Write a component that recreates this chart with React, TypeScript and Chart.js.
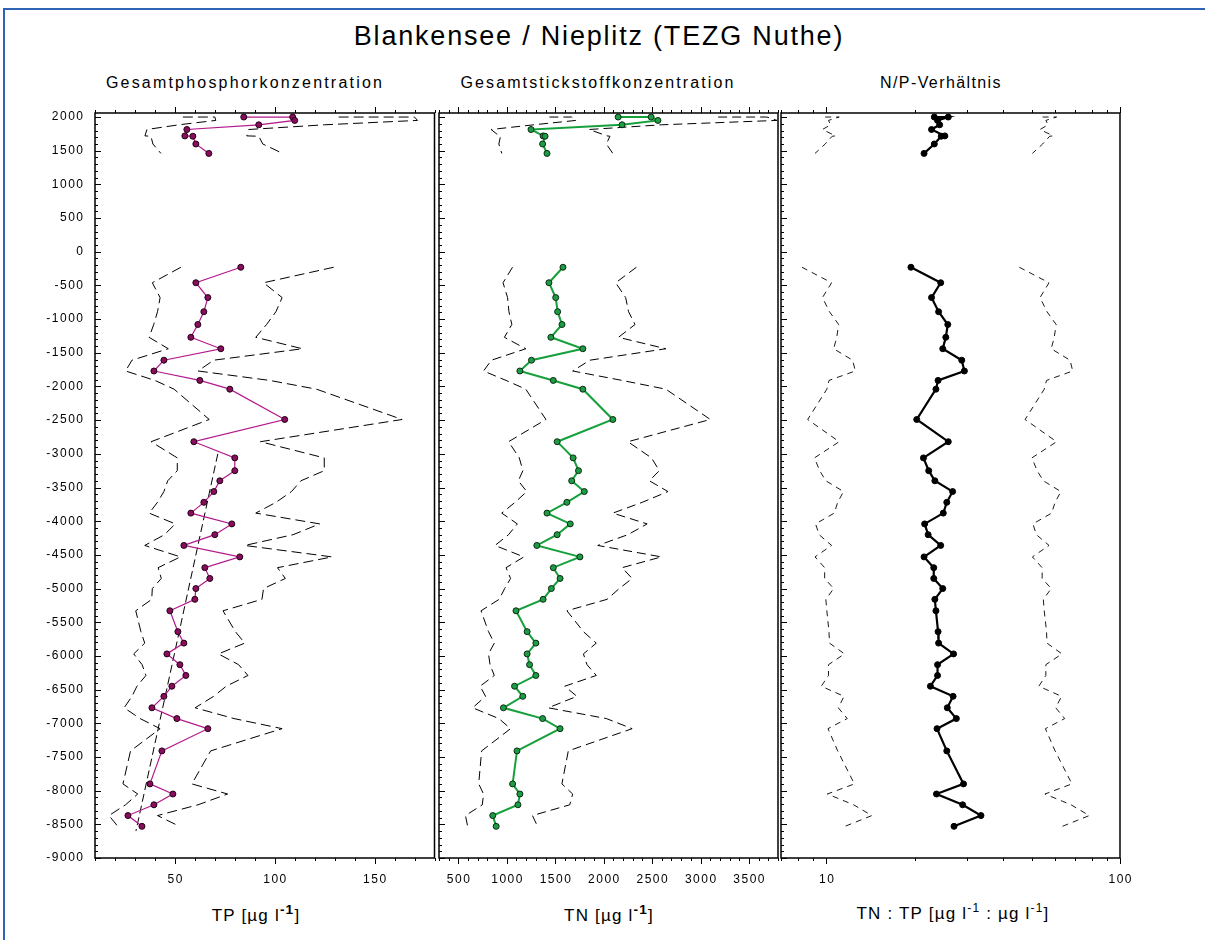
import React, { useEffect, useRef } from "react";
import { Chart, registerables } from "chart.js";

Chart.register(...registerables);

// ---------- sample ages (years; negative = BC) ----------
const recentYears = [2000, 2000, 1950, 1885, 1815, 1720, 1715, 1600, 1460];
const coreYears = [
  -230, -460, -680, -890, -1080, -1270, -1440, -1610, -1770, -1910, -2040, -2490,
  -2820, -3060, -3250, -3400, -3560, -3720, -3880, -4040, -4200, -4360, -4530,
  -4690, -4850, -5000, -5160, -5330, -5640, -5810, -5970, -6130, -6290, -6450,
  -6600, -6770, -6930, -7080, -7410, -7900, -8050, -8210, -8370, -8530,
];

// ---------- TP ----------
const tpRecent = [84.5, 109, 110, 92, 56, 55, 59, 60.5, 67];
const tpRecentLow = [54, 70, 70.5, 52, 36, 35, 38, 39, 43];
const tpRecentHigh = [132, 170, 171.5, 125, 87, 86, 92, 94, 104];
const tpCore = [
  83, 60.5, 66.5, 64.5, 61.5, 58, 73, 44.5, 39.5, 62.5, 77.5, 105, 59.5, 80, 80,
  72.5, 69.5, 64.5, 58, 78.5, 70, 54.5, 82.5, 65, 67.5, 60.5, 60, 47.5, 51.5, 54.5,
  46, 52.5, 55.5, 48.5, 44.5, 38.5, 51, 66.5, 43.5, 37.5, 49, 39.5, 26.5, 33.5,
];
const tpCoreLow = [
  53, 38.7, 42.6, 41.3, 39.4, 37.1, 46.7, 28.5, 25.3, 40, 49.6, 67.2, 38.1, 51.2,
  51.2, 46.4, 44.5, 41.3, 37.1, 50.2, 44.8, 34.9, 52.8, 41.6, 43.2, 38.7, 38.4,
  30.4, 33, 34.9, 29.4, 33.6, 35.5, 31, 28.5, 24.6, 32.6, 42.6, 27.8, 24, 31.4,
  25.3, 17, 21.4,
];
const tpCoreHigh = [
  129.5, 94.4, 103.7, 100.6, 95.9, 90.5, 113.9, 69.4, 61.6, 97.5, 120.9, 163.8,
  92.8, 124.8, 124.8, 113.1, 108.4, 100.6, 90.5, 122.5, 109.2, 85, 128.7, 101.4,
  105.3, 94.4, 93.6, 74.1, 80.3, 85, 71.8, 81.9, 86.6, 75.7, 69.4, 60.1, 79.6,
  103.7, 67.9, 58.5, 76.4, 61.6, 41.3, 52.3,
];
const tpTrendYears = [-3000, -8600];
const tpTrendValues = [71.5, 30.5];

// ---------- TN ----------
const tnRecent = [2150, 2490, 2560, 2190, 1250, 1375, 1395, 1370, 1415];
const tnRecentLow = [1440, 1668, 1715, 1280, 838, 921, 935, 918, 948];
const tnRecentHigh = [3182, 3685, 3789, 2600, 1850, 2035, 2065, 2028, 2094];
const tnCore = [
  1580, 1435, 1505, 1525, 1570, 1455, 1785, 1255, 1135, 1480, 1785, 2095, 1520,
  1685, 1740, 1670, 1800, 1620, 1415, 1655, 1520, 1310, 1755, 1480, 1550, 1460,
  1375, 1095, 1210, 1300, 1210, 1235, 1300, 1080, 1165, 965, 1370, 1550, 1105,
  1060, 1135, 1115, 855, 890,
];
const tnCoreLow = [
  1059, 961, 1008, 1022, 1052, 975, 1196, 841, 760, 992, 1196, 1404, 1018, 1129,
  1166, 1119, 1206, 1085, 948, 1109, 1018, 878, 1176, 992, 1039, 978, 921, 734,
  811, 871, 811, 827, 871, 724, 781, 647, 918, 1039, 740, 710, 760, 747, 573, 596,
];
const tnCoreHigh = [
  2338, 2124, 2227, 2257, 2324, 2153, 2642, 1857, 1680, 2190, 2642, 3101, 2250,
  2494, 2575, 2472, 2664, 2398, 2094, 2449, 2250, 1939, 2597, 2190, 2294, 2161,
  2035, 1621, 1791, 1924, 1791, 1828, 1924, 1598, 1724, 1428, 2028, 2294, 1635,
  1569, 1680, 1650, 1265, 1317,
];

// ---------- N/P ----------
const npRecent = [23.3, 26.0, 23.9, 24.3, 22.8, 25.3, 24.6, 23.3, 21.5];
const npRecentLow = [9.9, 11.05, 10.16, 10.33, 9.69, 10.75, 10.46, 9.9, 9.14];
const npRecentHigh = [54.5, 60.8, 55.9, 56.9, 53.4, 59.2, 57.6, 54.5, 50.3];
const npCore = [
  19.4, 24.5, 22.8, 24.1, 25.9, 25.5, 24.9, 28.9, 29.5, 24.0, 23.6, 20.3, 26.0,
  21.4, 22.3, 23.4, 26.9, 25.7, 25.0, 21.6, 22.2, 24.5, 21.5, 23.2, 23.2, 24.9,
  23.4, 23.6, 24.0, 24.1, 27.1, 23.9, 23.9, 22.6, 27.0, 25.8, 27.7, 23.8, 25.7,
  29.3, 23.7, 29.1, 33.6, 27.2,
];
const npCoreLow = [
  8.25, 10.41, 9.69, 10.24, 11.0, 10.84, 10.58, 12.28, 12.54, 10.2, 10.03, 8.63,
  11.05, 9.1, 9.48, 9.95, 11.43, 10.92, 10.63, 9.18, 9.44, 10.41, 9.14, 9.86, 9.86,
  10.58, 9.95, 10.03, 10.2, 10.24, 11.52, 10.16, 10.16, 9.6, 11.48, 10.97, 11.77,
  10.12, 10.92, 12.45, 10.07, 12.37, 14.28, 11.56,
];
const npCoreHigh = [
  45.4, 57.3, 53.4, 56.4, 60.6, 59.7, 58.3, 67.6, 69, 56.2, 55.2, 47.5, 60.8, 50.1,
  52.2, 54.8, 62.9, 60.1, 58.5, 50.5, 51.9, 57.3, 50.3, 54.3, 54.3, 58.3, 54.8,
  55.2, 56.2, 56.4, 63.4, 55.9, 55.9, 52.9, 63.2, 60.4, 64.8, 55.7, 60.1, 68.6,
  55.5, 68.1, 78.6, 63.6,
];

// ---------- tick labels ----------
const yTickLabels = [
  2000, 1500, 1000, 500, 0, -500, -1000, -1500, -2000, -2500, -3000, -3500, -4000,
  -4500, -5000, -5500, -6000, -6500, -7000, -7500, -8000, -8500, -9000,
];
const tpTickLabels = [50, 100, 150];
const tnTickLabels = [500, 1000, 1500, 2000, 2500, 3000, 3500];
const npTickLabels = [10, 100];

const FONT = "'Liberation Sans', Arial, Helvetica, sans-serif";
const CANVAS_TOP = 100;
const CANVAS_H = 800;
const PAD_TOP = 13; // plot top at y = 113
const PAD_BOTTOM = 42; // plot bottom at y = 858

function pts(xs: number[], ys: number[]) {
  return xs.map((x, i) => ({ x, y: ys[i] }));
}

function series(label: string, xs: number[], ys: number[], line: string, fill: string, edge: string, width: number, radius: number) {
  return {
    label,
    data: pts(xs, ys),
    showLine: true,
    borderColor: line,
    borderWidth: width,
    pointRadius: radius,
    pointBackgroundColor: fill,
    pointBorderColor: edge,
    pointBorderWidth: 1,
    clip: false,
  };
}

function dashed(label: string, xs: number[], ys: number[], dash: number[], width: number) {
  return {
    label,
    data: pts(xs, ys),
    showLine: true,
    borderColor: "#000",
    borderWidth: width,
    borderDash: dash,
    pointRadius: 0,
    clip: false,
  };
}

function range(a: number, b: number, s: number) {
  const out: number[] = [];
  for (let v = a; v <= b + 1e-9; v += s) out.push(Math.round(v * 1000) / 1000);
  return out;
}

type Panel = {
  key: string;
  left: number;
  width: number;
  padLeft: number;
  padRight: number;
  showY: boolean;
  xType: "linear" | "logarithmic";
  xMin: number;
  xMax: number;
  xLabels: number[];
  minorX: number[];
  datasets: any[];
};

const TP_LINE = "#b3188c";
const TP_FILL = "#8a0c5f";
const TN_LINE = "#16a03c";
const TN_FILL = "#1c9c45";

const panels: Panel[] = [
  {
    key: "tp",
    left: 0,
    width: 437,
    padLeft: 95,
    padRight: 2.5,
    showY: true,
    xType: "linear",
    xMin: 10,
    xMax: 180,
    xLabels: tpTickLabels,
    minorX: range(10, 180, 10),
    datasets: [
      series("TP recent", tpRecent, recentYears, TP_LINE, TP_FILL, "#200010", 1.2, 3),
      series("TP core", tpCore, coreYears, TP_LINE, TP_FILL, "#200010", 1.2, 3),
      dashed("TP trend", tpTrendValues, tpTrendYears, [8, 4], 1),
      dashed("TP low recent", tpRecentLow, recentYears, [10, 5], 1),
      dashed("TP high recent", tpRecentHigh, recentYears, [10, 5], 1),
      dashed("TP low core", tpCoreLow, coreYears, [10, 5], 1),
      dashed("TP high core", tpCoreHigh, coreYears, [10, 5], 1),
    ],
  },
  {
    key: "tn",
    left: 437,
    width: 343,
    padLeft: 2,
    padRight: 2,
    showY: false,
    xType: "linear",
    xMin: 300,
    xMax: 3800,
    xLabels: tnTickLabels,
    minorX: range(300, 3800, 100),
    datasets: [
      series("TN recent", tnRecent, recentYears, TN_LINE, TN_FILL, "#0b2a12", 2, 3),
      series("TN core", tnCore, coreYears, TN_LINE, TN_FILL, "#0b2a12", 2, 3),
      dashed("TN low recent", tnRecentLow, recentYears, [9, 5], 1),
      dashed("TN high recent", tnRecentHigh, recentYears, [9, 5], 1),
      dashed("TN low core", tnCoreLow, coreYears, [9, 5], 1),
      dashed("TN high core", tnCoreHigh, coreYears, [9, 5], 1),
    ],
  },
  {
    key: "np",
    left: 780,
    width: 425,
    padLeft: 1,
    padRight: 85,
    showY: false,
    xType: "logarithmic",
    xMin: 7,
    xMax: 100,
    xLabels: npTickLabels,
    minorX: [7, 8, 9, 10, 20, 30, 40, 50, 60, 70, 80, 90, 100],
    datasets: [
      series("N/P recent", npRecent, recentYears, "#000", "#000", "#000", 2.2, 3),
      series("N/P core", npCore, coreYears, "#000", "#000", "#000", 2.2, 3),
      dashed("N/P low recent", npRecentLow, recentYears, [6, 5], 0.9),
      dashed("N/P high recent", npRecentHigh, recentYears, [6, 5], 0.9),
      dashed("N/P low core", npCoreLow, coreYears, [6, 5], 0.9),
      dashed("N/P high core", npCoreHigh, coreYears, [6, 5], 0.9),
    ],
  },
];

function hasValue(list: number[], v: number) {
  return list.some((m) => Math.abs(m - v) < 1e-6 * Math.max(1, Math.abs(m)));
}

// Draws the panel frame, the minor/major tick marks and the tick labels
// at positions taken from the chart's own scales.
function axisPlugin(p: Panel) {
  return {
    id: "axisFrame_" + p.key,
    afterDraw(chart: any) {
      const ctx = chart.ctx;
      const a = chart.chartArea;
      const ys = chart.scales.y;
      const xs = chart.scales.x;
      ctx.save();
      ctx.strokeStyle = "#000";
      ctx.lineWidth = 1;
      ctx.beginPath();
      for (let v = -9000; v <= 2000; v += 100) {
        const py = Math.round(ys.getPixelForValue(v)) + 0.5;
        const len = v % 500 === 0 ? 6 : 3;
        ctx.moveTo(a.left, py);
        ctx.lineTo(a.left + len, py);
      }
      for (const v of p.minorX) {
        const px = Math.round(xs.getPixelForValue(v)) + 0.5;
        const len = hasValue(p.xLabels, v) ? 6 : 3;
        ctx.moveTo(px, a.bottom);
        ctx.lineTo(px, a.bottom + len);
        ctx.moveTo(px, a.top);
        ctx.lineTo(px, a.top - len);
      }
      ctx.stroke();
      ctx.lineWidth = 1.5;
      ctx.strokeRect(a.left, a.top, a.right - a.left, a.bottom - a.top);

      ctx.fillStyle = "#000";
      ctx.font = `12px ${FONT}`;
      ctx.letterSpacing = "1.5px";
      ctx.textBaseline = "middle";
      if (p.showY) {
        ctx.textAlign = "right";
        for (const v of yTickLabels) {
          ctx.fillText(String(v), a.left - 10.5, ys.getPixelForValue(v));
        }
      }
      ctx.textAlign = "center";
      for (const v of p.xLabels) {
        ctx.fillText(String(v), xs.getPixelForValue(v) + 0.75, a.bottom + 22);
      }
      ctx.letterSpacing = "0px";
      ctx.restore();
    },
  };
}

function ChartPanel({ p }: { p: Panel }) {
  const ref = useRef<HTMLCanvasElement>(null);
  useEffect(() => {
    const chart = new Chart(ref.current as HTMLCanvasElement, {
      type: "scatter",
      data: { datasets: p.datasets },
      options: {
        animation: false,
        responsive: false,
        maintainAspectRatio: false,
        devicePixelRatio: 1,
        events: [],
        layout: {
          autoPadding: false,
          padding: { top: PAD_TOP, bottom: PAD_BOTTOM, left: p.padLeft, right: p.padRight },
        },
        plugins: {
          legend: { display: false },
          tooltip: { enabled: false },
          title: { display: false },
        },
        scales: {
          x: { type: p.xType, min: p.xMin, max: p.xMax, display: false },
          y: { type: "linear", min: -9000, max: 2060, display: false },
        },
      } as any,
      plugins: [axisPlugin(p)],
    });
    return () => chart.destroy();
  }, []);
  return (
    <canvas
      ref={ref}
      width={p.width}
      height={CANVAS_H}
      style={{ position: "absolute", left: p.left, top: CANVAS_TOP, width: p.width, height: CANVAS_H }}
    />
  );
}

const centered = (x: number, top: number, size: number, spacing: number): React.CSSProperties => ({
  position: "absolute",
  left: x,
  top,
  transform: "translateX(-50%)",
  whiteSpace: "nowrap",
  fontSize: size,
  lineHeight: 1,
  letterSpacing: spacing,
  color: "#000",
  fontFamily: FONT,
});

export default function App() {
  return (
    <div
      style={{
        position: "absolute",
        left: 0,
        top: 0,
        width: 1205,
        height: 940,
        overflow: "hidden",
        background: "#fff",
        fontFamily: FONT,
      }}
    >
      <div
        style={{
          position: "absolute",
          left: 3,
          top: 8,
          right: 0,
          bottom: 0,
          borderTop: "2px solid #2f63b6",
          borderLeft: "2px solid #2f63b6",
        }}
      />
      <div style={centered(599, 23, 27, 1.8)}>Blankensee / Nieplitz (TEZG Nuthe)</div>
      <div style={centered(245, 75, 16, 2.2)}>Gesamtphosphorkonzentration</div>
      <div style={centered(598, 75, 16, 2.1)}>Gesamtstickstoffkonzentration</div>
      <div style={centered(941, 75, 16, 1.4)}>N/P-Verhältnis</div>
      {panels.map((p) => (
        <ChartPanel key={p.key} p={p} />
      ))}
      <div style={centered(256, 903, 17, 1.2)}>
        TP [µg l<sup style={{ fontSize: "0.8em", fontWeight: "bold" }}>-1</sup>]
      </div>
      <div style={centered(609, 903, 17, 1.2)}>
        TN [µg l<sup style={{ fontSize: "0.8em", fontWeight: "bold" }}>-1</sup>]
      </div>
      <div style={centered(953, 903, 17, 1.2)}>
        TN : TP [µg l<sup style={{ fontSize: "0.7em" }}>-1</sup> : µg l<sup style={{ fontSize: "0.7em" }}>-1</sup>]
      </div>
    </div>
  );
}
